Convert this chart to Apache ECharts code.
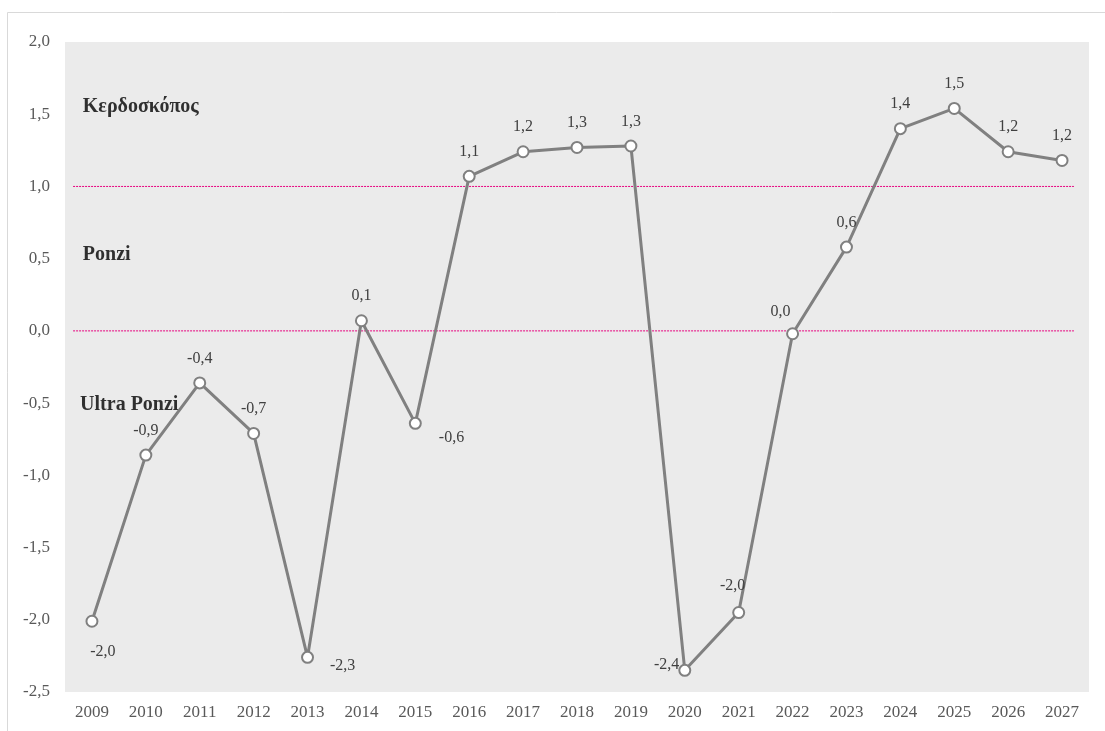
<!DOCTYPE html>
<html>
<head>
<meta charset="utf-8">
<script src="https://cdn.jsdelivr.net/npm/echarts@6/dist/echarts.min.js"></script>
<style>
  html, body { margin: 0; padding: 0; background: #ffffff; }
  #chart { width: 1105px; height: 731px; }
</style>
</head>
<body>
<div id="chart"></div>
<script>
// Years on the horizontal axis
const years = ['2009','2010','2011','2012','2013','2014','2015','2016','2017','2018',
               '2019','2020','2021','2022','2023','2024','2025','2026','2027'];
// Indicator value per year
const values = [-2.01, -0.86, -0.36, -0.71, -2.26, 0.07, -0.64, 1.07, 1.24, 1.27,
                1.28, -2.35, -1.95, -0.02, 0.58, 1.40, 1.54, 1.24, 1.18];
// Threshold levels separating the regimes
const thresholds = [1.0, 0.0];
// Regime names and the level each name sits at
const regimeNames = ['Κερδοσκόπος', 'Ponzi', 'Ultra Ponzi'];
const regimeLevels = [1.55, 0.53, -0.51];

const FONT = '"Liberation Serif", "DejaVu Serif", serif';

// One decimal, rounded half away from zero, comma as decimal mark
function fmt(v) {
  const r = Math.round(Math.abs(v) * 10 + 1e-9) / 10;
  const s = (r === 0 || v >= 0) ? '' : '-';
  return s + r.toFixed(1).replace('.', ',');
}

// Per-point label placement
const labelPlacement = {
  0:  { position: 'bottom', offset: [11, 6] },
  4:  { position: 'right', offset: [6, 8] },
  6:  { position: 'right', offset: [7, 14] },
  11: { position: 'left', offset: [11, -6] },
  12: { position: 'top', offset: [-6, -2] },
  13: { position: 'top', offset: [-12, 3] }
};

const lineData = values.map((v, i) => {
  const p = labelPlacement[i];
  const item = { value: v };
  if (p) item.label = { position: p.position, offset: p.offset };
  return item;
});

const chart = echarts.init(document.getElementById('chart'), null, { renderer: 'canvas' });

const thresholdSeries = thresholds.map(t => ({
  type: 'line',
  xAxisIndex: 1,
  yAxisIndex: 0,
  data: [[0.15, t], [18.72, t]],
  symbol: 'none',
  silent: true,
  z: 1,
  lineStyle: { color: '#e6007e', width: 1, type: [2, 1] }
}));

chart.setOption({
  animation: false,
  backgroundColor: '#ffffff',
  grid: {
    left: 65, right: 16, top: 42, bottom: 39,
    show: true, backgroundColor: '#ebebeb', borderWidth: 0
  },
  xAxis: [{
    type: 'category',
    data: years,
    boundaryGap: true,
    axisLine: { show: false },
    axisTick: { show: false },
    axisLabel: { color: '#595959', fontFamily: FONT, fontSize: 17, margin: 12 }
  }, {
    type: 'value',
    min: 0, max: 19,
    show: false
  }],
  yAxis: {
    type: 'value',
    min: -2.5, max: 2.0, interval: 0.5,
    axisLine: { show: false },
    axisTick: { show: false },
    splitLine: { show: false },
    axisLabel: {
      color: '#595959', fontFamily: FONT, fontSize: 17, margin: 15,
      formatter: v => v.toFixed(1).replace('.', ',')
    }
  },
  series: thresholdSeries.concat([{
    type: 'line',
    xAxisIndex: 0,
    data: lineData,
    z: 3,
    symbol: 'circle',
    symbolSize: 11,
    lineStyle: { color: '#808080', width: 3 },
    itemStyle: { color: '#ffffff', borderColor: '#808080', borderWidth: 2 },
    label: {
      show: true,
      position: 'top',
      distance: 10,
      color: '#404040',
      fontFamily: FONT,
      fontSize: 16,
      formatter: p => fmt(p.value)
    }
  }, {
    // Regime names placed on the value scale
    type: 'scatter',
    xAxisIndex: 1,
    data: regimeLevels.map((lv, i) => ({ value: [i === 2 ? 0.28 : 0.33, lv], name: regimeNames[i] })),
    symbolSize: 0,
    silent: true,
    z: 4,
    label: {
      show: true,
      position: 'right',
      distance: 0,
      formatter: p => p.name,
      color: '#000000',
      fontFamily: FONT,
      fontSize: 20,
      fontWeight: 'bold'
    }
  }]),
  graphic: [{
    type: 'rect',
    silent: true,
    shape: { x: 7.5, y: 12.5, width: 1200, height: 800 },
    style: { fill: 'none', stroke: '#d9d9d9', lineWidth: 1 },
    z: -10
  }]
});
</script>
</body>
</html>
